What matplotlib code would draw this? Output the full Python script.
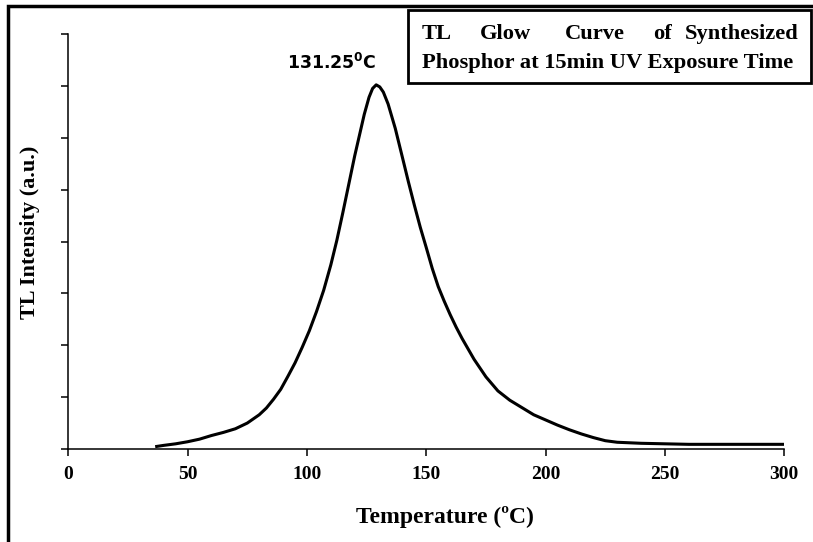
import matplotlib
matplotlib.use("Agg")
import matplotlib.pyplot as plt
from matplotlib.patches import Rectangle

# TL glow curve (temperature in C, intensity in a.u.)
temperature = [36.4, 40, 45, 50, 55, 60, 65, 70, 75, 80, 83, 86, 89, 92, 95,
               98, 101, 104, 107, 110, 112.5, 115, 117.5, 120, 122, 124, 126,
               127.5, 129, 130.5, 132, 134, 137, 140, 142.5, 145, 147.5, 150,
               152.5, 155, 157.5, 160, 162.5, 165, 170, 175, 180, 185, 190, 195,
               200, 205, 210, 215, 220, 225, 230, 240, 250, 260, 280, 300]
intensity = [0.045, 0.07, 0.10, 0.14, 0.19, 0.26, 0.32, 0.39, 0.50, 0.66, 0.79,
             0.96, 1.15, 1.40, 1.66, 1.96, 2.28, 2.65, 3.06, 3.55, 4.02, 4.55,
             5.10, 5.65, 6.05, 6.45, 6.78, 6.95, 7.02, 6.98, 6.88, 6.65, 6.18,
             5.62, 5.15, 4.70, 4.27, 3.88, 3.48, 3.13, 2.85, 2.59, 2.35, 2.13,
             1.73, 1.39, 1.12, 0.94, 0.80, 0.66, 0.56, 0.46, 0.37, 0.29, 0.22,
             0.16, 0.13, 0.11, 0.10, 0.09, 0.09, 0.09]
x_ticks = [0, 50, 100, 150, 200, 250, 300]
y_ticks = [0, 1, 2, 3, 4, 5, 6, 7, 8]
peak_label = "131.25"

W, H = 813, 542
SERIF = "Liberation Serif"

fig = plt.figure(figsize=(W / 100, H / 100), dpi=100)


def fx(px):
    return px / W


def fy(py):
    return 1 - py / H


ax = fig.add_axes([fx(68.3), fy(449), fx(784.3) - fx(68.3), fy(34) - fy(449)])
ax.plot(temperature, intensity, color="black", linewidth=2.2,
        solid_joinstyle="round", solid_capstyle="butt")

ax.set_xlim(0, 300)
ax.set_ylim(0, 8)
ax.set_xticks(x_ticks)
ax.set_yticks(y_ticks)
ax.set_yticklabels([])
ax.set_xticklabels([str(t) for t in x_ticks], fontfamily=SERIF,
                   fontweight="bold", fontsize=14)
ax.tick_params(axis="both", direction="out", length=5, width=1.1, colors="black")
ax.tick_params(axis="x", pad=7)
for side in ("top", "right"):
    ax.spines[side].set_visible(False)
for side in ("left", "bottom"):
    ax.spines[side].set_linewidth(1.1)

# peak annotation
ax.text(110.5, 7.44, peak_label + r"$^{\mathbf{0}}$C", ha="center", va="center",
        fontsize=12.5, fontweight="bold", fontfamily="DejaVu Sans")

# axis labels placed in figure pixels
fig.text(fx(30), fy(232), "TL Intensity (a.u.)", rotation=90, ha="center",
         va="center", fontfamily=SERIF, fontweight="bold", fontsize=16)
fig.text(fx(445), fy(517), "Temperature (\u00baC)", ha="center", va="center",
         fontfamily=SERIF, fontweight="bold", fontsize=17)

# title box, first line justified word by word
fig.add_artist(Rectangle((fx(408), fy(83)), fx(811) - fx(408), fy(10) - fy(83),
                         transform=fig.transFigure, fill=False,
                         edgecolor="black", linewidth=2))
line1 = ["TL", "Glow", "Curve", "of", "Synthesized"]
line1_x = [422, 480, 565, 653, 685]
for word, px in zip(line1, line1_x):
    fig.text(fx(px), fy(39), word, ha="left", va="baseline", fontfamily=SERIF,
             fontweight="bold", fontsize=16.2)
fig.text(fx(422), fy(68), "Phosphor at 15min UV Exposure Time", ha="left",
         va="baseline", fontfamily=SERIF, fontweight="bold", fontsize=16.2)

# outer frame, cut off at the right and bottom like the reference
fig.add_artist(Rectangle((fx(8), -0.2), 1.2, fy(6) + 0.2,
                         transform=fig.transFigure, fill=False,
                         edgecolor="black", linewidth=2.5))

fig.savefig("out.png", dpi=100)
